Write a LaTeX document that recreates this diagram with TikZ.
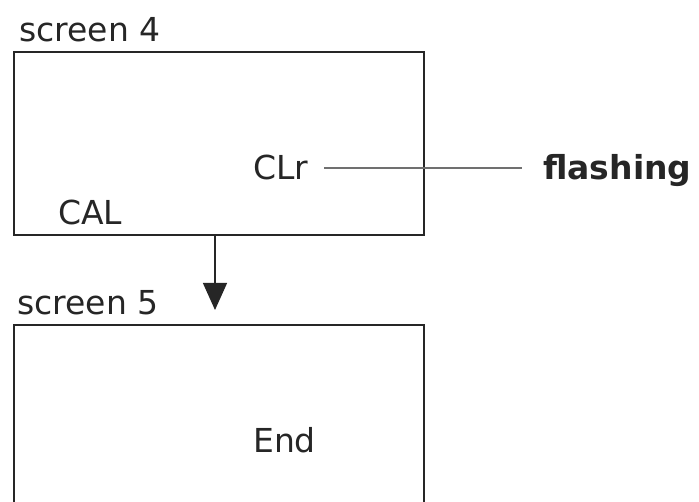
\documentclass[tikz,border=0pt]{standalone}
\usepackage{fontspec}
\setmainfont{DejaVu Sans}
\usetikzlibrary{arrows.meta}
\definecolor{ink}{HTML}{262626}
\definecolor{thin}{HTML}{707070}
\tikzset{
  screenbox/.style={draw=ink, line width=1.8pt, rectangle, inner sep=0pt},
  lbl/.style={text=ink, inner sep=0pt, anchor=base west, font=\fontsize{33}{38}\selectfont},
  boldlbl/.style={lbl, font=\fontsize{33}{38}\selectfont\bfseries},
  flow/.style={draw=ink, line width=1.2pt, -{Triangle[length=27pt,width=24pt]}},
  leader/.style={draw=thin, line width=1.1pt}
}
\begin{document}
\begin{tikzpicture}[x=1pt,y=-1pt]
\useasboundingbox (0,0) rectangle (699,502);
\clip (0,0) rectangle (699,502);
\fill[white] (0,0) rectangle (699,502);
% boxes
\node[screenbox, minimum width=410pt, minimum height=183pt] (box4) at (219,143.5) {};
\node[screenbox, minimum width=410pt, minimum height=275pt] (box5) at (219,462.5) {};
% labels
\node[lbl] (s4) at (19,42) {screen 4};
\node[lbl] (s5) at (17,315) {screen 5};
\node[lbl] (clr) at (253,180) {CLr};
\node[lbl] (cal) at (58,225) {CAL};
\node[lbl] (end) at (253,453) {End};
\node[boldlbl] (flash) at (543,180) {flashing};
% arrow
\coordinate (tip) at (215,310);
\draw[flow] (tip |- box4.south) -- (tip);
% leader line
\draw[leader] ([xshift=16pt]clr.east) -- ([xshift=-21pt]clr.east -| flash.west);
\end{tikzpicture}
\end{document}
